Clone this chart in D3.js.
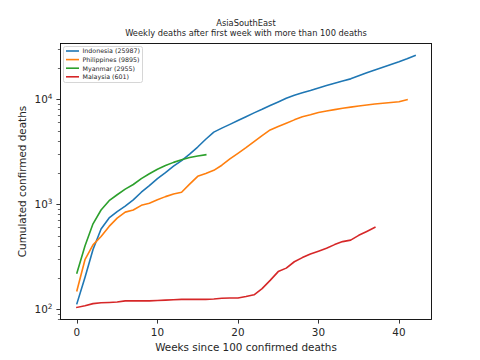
<!DOCTYPE html>
<html><head><meta charset="utf-8">
<script src="https://cdn.jsdelivr.net/npm/d3@7"></script>
<style>body{margin:0;background:#fff}svg{display:block}text{font-family:"DejaVu Sans",sans-serif}</style>
</head><body>
<svg id="c" width="480" height="360"></svg>
<script>
const countries = ["Indonesia","Philippines","Myanmar","Malaysia"];
const colors = ["#1f77b4","#ff7f0e","#2ca02c","#d62728"];
const indonesia = [113,200,370,580,740,850,960,1100,1300,1500,1750,2000,2300,2600,3000,3500,4150,4850,5300,5750,6250,6800,7400,8000,8700,9400,10200,10900,11500,12100,12800,13500,14200,14900,15600,16700,17800,18900,20100,21400,22700,24200,25987];
const philippines = [150,296,410,493,614,737,840,880,975,1020,1100,1180,1250,1300,1550,1840,1960,2100,2350,2700,3050,3450,3950,4500,5090,5500,5900,6350,6800,7100,7450,7700,7950,8200,8400,8600,8800,9000,9150,9300,9450,9895];
const myanmar = [221,400,650,880,1080,1230,1390,1540,1750,1950,2150,2330,2500,2650,2780,2880,2955];
const malaysia = [104,108,113,115,116,117,120,120,120,120,121,122,123,124,124,124,124,125,127,128,128,132,137,157,188,228,246,283,310,336,357,380,412,440,455,505,550,601];
const seriesValues = [indonesia, philippines, myanmar, malaysia];
const xTicks = [0,10,20,30,40];
const yMajor = [100,1000,10000];
const titleText = "AsiaSouthEast";
const subtitleText = "Weekly deaths after first week with more than 100 deaths";
const xLabel = "Weeks since 100 confirmed deaths";
const yLabel = "Cumulated confirmed deaths";

const svg = d3.select("#c");
const L=60, R=432, T=43, B=320;
const maxLen = d3.max(seriesValues, s=>s.length)-1;
const xm = maxLen*0.05;
const x = d3.scaleLinear().domain([-xm, maxLen+xm]).range([L,R]);
const all = seriesValues.flat();
const lmin = Math.log10(d3.min(all)), lmax = Math.log10(d3.max(all));
const lm = (lmax-lmin)*0.05;
const y = d3.scaleLog().domain([Math.pow(10,lmin-lm), Math.pow(10,lmax+lm)]).range([B,T]);

// lines
const line = d3.line().x((d,i)=>x(i)).y(d=>y(d));
const g = svg.append("g");
seriesValues.forEach((s,k)=>{
  g.append("path").attr("d", line(s)).attr("fill","none").attr("stroke",colors[k])
   .attr("stroke-width",1.6).attr("stroke-linejoin","round").attr("stroke-linecap","square");
});

// x axis
const xa = svg.append("g");
xTicks.forEach(t=>{
  const px = Math.round(x(t))+0.5;
  xa.append("line").attr("x1",px).attr("x2",px).attr("y1",B).attr("y2",B+3.6).attr("stroke","#000").attr("stroke-width",0.8);
  xa.append("text").attr("x",x(t)).attr("y",B+15.5).attr("text-anchor","middle").attr("font-size",10.4).attr("fill","#262626").text(t);
});
// y axis
const ya = svg.append("g");
const [d0,d1] = y.domain();
for (let e=Math.floor(Math.log10(d0)); e<=Math.ceil(Math.log10(d1)); e++){
  for (let m=1;m<10;m++){
    const v=m*Math.pow(10,e);
    if (v<d0||v>d1) continue;
    const py=Math.round(y(v))+0.5;
    const major = m===1;
    ya.append("line").attr("x1",L).attr("x2",L-(major?3.6:2.1)).attr("y1",py).attr("y2",py).attr("stroke","#000").attr("stroke-width",major?0.8:0.6);
  }
}
yMajor.forEach(v=>{
  const e = Math.round(Math.log10(v));
  const t = ya.append("text").attr("x",L-7.5).attr("y",y(v)+4).attr("text-anchor","end").attr("font-size",10.4).attr("fill","#262626");
  t.append("tspan").text("10");
  t.append("tspan").attr("font-size",7.3).attr("dy",-4).text(e);
});

// frame
svg.append("rect").attr("x",L+0.5).attr("y",T+0.5).attr("width",R-L-1).attr("height",B-T-1).attr("fill","none").attr("stroke","#000").attr("stroke-width",0.9);

// labels
svg.append("text").attr("x",(L+R)/2).attr("y",351).attr("text-anchor","middle").attr("font-size",10.4).attr("fill","#262626").text(xLabel);
svg.append("text").attr("transform",`translate(26,${(T+B)/2}) rotate(-90)`).attr("text-anchor","middle").attr("font-size",10.4).attr("fill","#262626").text(yLabel);
svg.append("text").attr("x",(L+R)/2).attr("y",26).attr("text-anchor","middle").attr("font-size",8.3).attr("fill","#262626").text(titleText);
svg.append("text").attr("x",(L+R)/2).attr("y",36).attr("text-anchor","middle").attr("font-size",8.3).attr("fill","#262626").text(subtitleText);

// legend
const leg = svg.append("g");
leg.append("rect").attr("x",63.5).attr("y",46.5).attr("width",79).attr("height",36).attr("rx",2).attr("fill","#fff").attr("fill-opacity",0.8).attr("stroke","#cccccc").attr("stroke-width",0.8);
countries.forEach((c,k)=>{
  const yy = 51 + k*8.6;
  leg.append("line").attr("x1",66).attr("x2",79).attr("y1",yy).attr("y2",yy).attr("stroke",colors[k]).attr("stroke-width",1.6);
  const s = seriesValues[k];
  leg.append("text").attr("x",82.5).attr("y",yy+2.3).attr("font-size",6.3).attr("fill","#262626").text(`${c} (${s[s.length-1]})`);
});
</script>
</body></html>
